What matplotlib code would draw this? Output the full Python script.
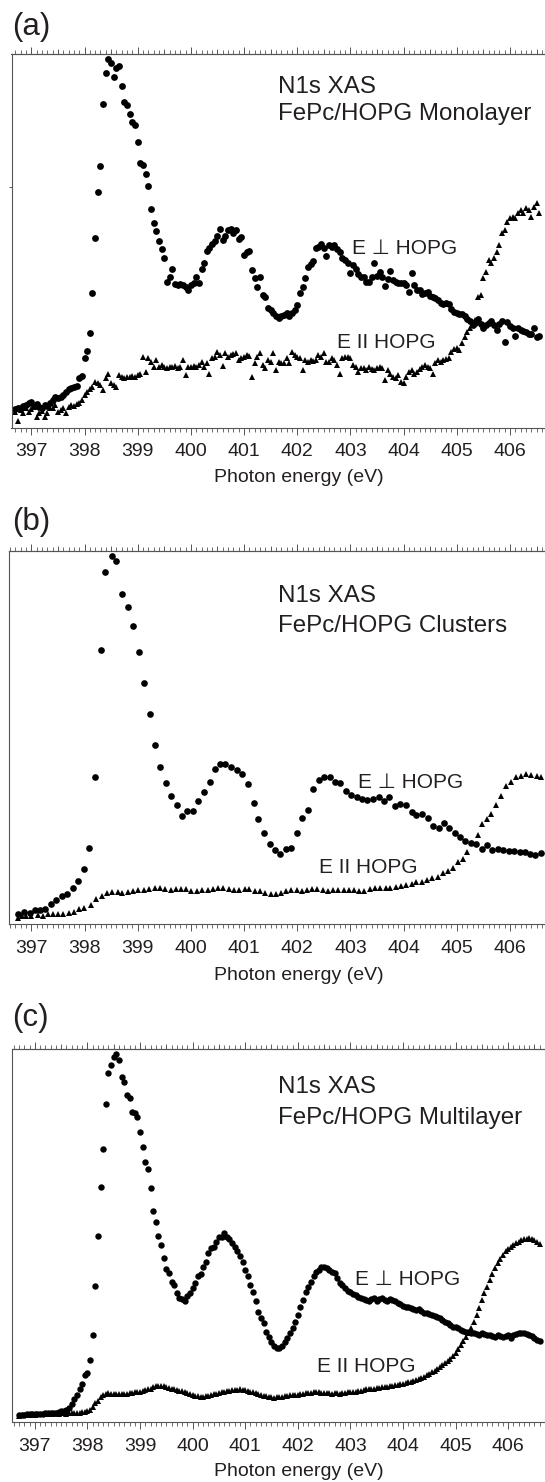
import matplotlib
matplotlib.use('Agg')
import matplotlib.pyplot as plt
from matplotlib.ticker import MultipleLocator

plt.rcParams['font.family'] = ['Liberation Sans', 'DejaVu Sans']

# ---------------- data ----------------
energy_fine = [
    396.70, 396.75, 396.80, 396.85, 396.90, 396.95,
    397.00, 397.05, 397.10, 397.15, 397.20, 397.25, 397.30, 397.35, 397.40, 397.45,
    397.50, 397.55, 397.60, 397.65, 397.70, 397.75, 397.80, 397.85, 397.90, 397.95,
    398.00, 398.05, 398.10, 398.15, 398.20, 398.25, 398.30, 398.35, 398.40, 398.45,
    398.50, 398.55, 398.60, 398.65, 398.70, 398.75, 398.80, 398.85, 398.90, 398.95,
    399.00, 399.05, 399.10, 399.15, 399.20, 399.25, 399.30, 399.35, 399.40, 399.45,
    399.50, 399.55, 399.60, 399.65, 399.70, 399.75, 399.80, 399.85, 399.90, 399.95,
    400.00, 400.05, 400.10, 400.15, 400.20, 400.25, 400.30, 400.35, 400.40, 400.45,
    400.50, 400.55, 400.60, 400.65, 400.70, 400.75, 400.80, 400.85, 400.90, 400.95,
    401.00, 401.05, 401.10, 401.15, 401.20, 401.25, 401.30, 401.35, 401.40, 401.45,
    401.50, 401.55, 401.60, 401.65, 401.70, 401.75, 401.80, 401.85, 401.90, 401.95,
    402.00, 402.05, 402.10, 402.15, 402.20, 402.25, 402.30, 402.35, 402.40, 402.45,
    402.50, 402.55, 402.60, 402.65, 402.70, 402.75, 402.80, 402.85, 402.90, 402.95,
    403.00, 403.05, 403.10, 403.15, 403.20, 403.25, 403.30, 403.35, 403.40, 403.45,
    403.50, 403.55, 403.60, 403.65, 403.70, 403.75, 403.80, 403.85, 403.90, 403.95,
    404.00, 404.05, 404.10, 404.15, 404.20, 404.25, 404.30, 404.35, 404.40, 404.45,
    404.50, 404.55, 404.60, 404.65, 404.70, 404.75, 404.80, 404.85, 404.90, 404.95,
    405.00, 405.05, 405.10, 405.15, 405.20, 405.25, 405.30, 405.35, 405.40, 405.45,
    405.50, 405.55, 405.60, 405.65, 405.70, 405.75, 405.80, 405.85, 405.90, 405.95,
    406.00, 406.05, 406.10, 406.15, 406.20, 406.25, 406.30, 406.35, 406.40, 406.45,
    406.50, 406.55, 406.60,
]

# (a) Monolayer
perp_a = [
    4.9, 5.2, 5.4, 5.8, 6.1, 6.7, 7.0, 5.8, 6.3, 5.6,
    5.4, 6.1, 5.8, 6.5, 7.4, 8.3, 7.9, 8.1, 8.7, 9.6,
    10.3, 10.5, 11.0, 11.2, 13.2, 13.8, 18.6, 20.6, 25.4, 36.0,
    50.7, 63.2, 70.1, 86.6, 95.0, 98.6, 97.5, 93.8, 96.2, 96.8,
    91.4, 87.2, 86.4, 83.9, 81.9, 81.0, 76.4, 70.7, 70.3, 67.9,
    64.8, 58.4, 54.9, 52.6, 50.0, 47.7, 45.5, 39.1, 40.4, 42.4,
    38.4, 38.2, 38.4, 38.2, 37.7, 36.8, 38.2, 38.6, 40.2, 38.6,
    42.6, 44.0, 47.4, 48.0, 49.2, 50.0, 51.3, 53.3, 50.2, 51.3,
    52.9, 53.1, 52.0, 52.9, 50.4, 50.9, 46.2, 47.1, 47.4, 42.2,
    40.0, 37.7, 40.4, 35.5, 35.1, 31.9, 31.5, 30.6, 30.0, 29.3,
    30.0, 30.2, 30.6, 29.9, 30.6, 31.5, 32.8, 36.0, 37.6, 40.0,
    43.1, 43.7, 44.7, 48.0, 48.4, 49.1, 48.0, 45.9, 48.9, 48.4,
    48.9, 47.7, 47.1, 45.3, 45.0, 44.0, 41.5, 43.5, 42.6, 41.1,
    40.2, 40.4, 39.1, 39.1, 40.4, 44.0, 40.6, 41.7, 40.4, 37.9,
    39.7, 42.0, 39.5, 39.1, 38.8, 38.6, 38.8, 38.2, 36.4, 41.3,
    38.2, 36.8, 36.8, 35.8, 36.1, 36.4, 35.2, 35.1, 34.6, 34.2,
    33.3, 33.1, 33.5, 33.1, 31.7, 31.0, 30.8, 30.4, 30.3, 29.9,
    29.0, 28.6, 27.5, 27.9, 29.0, 27.7, 26.6, 27.5, 28.1, 28.6,
    27.5, 26.1, 27.7, 28.6, 23.0, 28.4, 27.2, 26.6, 24.5, 26.6,
    26.1, 26.0, 25.7, 25.2, 25.0, 26.6, 24.2, 24.5,
]
par_a = [
    4.3, 1.9, 4.7, 3.8, 5.2, 4.3, 4.9, 5.6, 2.9, 3.8,
    4.5, 2.9, 4.0, 5.2, 5.2, 6.1, 4.3, 4.7, 5.2, 3.8,
    5.6, 6.1, 5.8, 6.3, 6.5, 7.4, 8.7, 9.6, 10.3, 11.0,
    12.3, 11.9, 11.4, 10.1, 13.2, 14.5, 11.9, 11.4, 11.0, 14.1,
    13.6, 13.2, 13.6, 13.5, 13.8, 13.6, 14.1, 14.5, 19.0, 15.0,
    18.6, 17.7, 16.3, 18.1, 16.3, 16.8, 16.3, 15.9, 16.3, 16.3,
    16.5, 15.9, 16.3, 18.1, 14.1, 16.3, 16.3, 16.5, 16.3, 16.8,
    17.7, 16.3, 17.2, 14.5, 18.6, 19.0, 20.3, 19.4, 16.5, 19.9,
    19.0, 19.4, 19.7, 19.9, 18.1, 18.6, 19.0, 19.4, 19.2, 13.6,
    17.2, 19.0, 19.9, 16.8, 15.9, 18.1, 17.7, 19.9, 15.4, 17.7,
    17.2, 17.4, 18.6, 17.2, 20.3, 19.4, 19.0, 18.6, 15.4, 18.1,
    17.7, 18.1, 17.9, 18.1, 19.4, 18.8, 19.9, 17.7, 17.7, 18.6,
    18.1, 16.8, 14.5, 18.6, 19.0, 18.8, 18.6, 16.8, 16.3, 15.0,
    15.9, 15.9, 15.4, 16.3, 15.6, 15.4, 15.9, 16.3, 15.9, 12.8,
    15.4, 14.5, 13.6, 13.2, 14.1, 12.3, 11.9, 13.6, 15.0, 15.4,
    14.5, 15.0, 15.6, 16.3, 16.8, 16.3, 15.9, 14.5, 17.2, 18.1,
    17.7, 18.1, 18.3, 18.6, 20.3, 21.0, 21.2, 20.8, 22.6, 24.4,
    25.7, 26.6, 27.9, 28.8, 35.1, 35.5, 40.0, 41.7, 44.9, 44.0,
    45.3, 47.1, 48.9, 52.0, 52.9, 55.1, 56.0, 56.5, 56.0, 57.4,
    58.3, 57.4, 58.7, 58.3, 56.3, 59.1, 60.2, 57.4,
]

# (b) Clusters
energy_perp_b = [
    396.75, 396.86, 396.97, 397.07, 397.16, 397.26, 397.37, 397.47, 397.58, 397.67,
    397.79, 397.88, 397.98, 398.09, 398.19, 398.30, 398.39, 398.51, 398.60, 398.70,
    398.81, 398.91, 399.02, 399.11, 399.23, 399.32, 399.42, 399.53, 399.63, 399.74,
    399.83, 399.93, 400.04, 400.14, 400.25, 400.35, 400.45, 400.55, 400.65, 400.76,
    400.86, 400.97, 401.07, 401.18, 401.27, 401.37, 401.48, 401.58, 401.68, 401.79,
    401.89, 401.99, 402.09, 402.20, 402.30, 402.40, 402.50, 402.61, 402.71, 402.81,
    402.91, 403.02, 403.12, 403.22, 403.32, 403.43, 403.53, 403.63, 403.73, 403.84,
    403.94, 404.04, 404.15, 404.24, 404.35, 404.45, 404.55, 404.66, 404.76, 404.85,
    404.96, 405.06, 405.16, 405.26, 405.36, 405.47, 405.57, 405.67, 405.77, 405.87,
    405.98, 406.08, 406.18, 406.28, 406.38, 406.48, 406.59,
]
perp_b = [
    2.8, 3.4, 3.1, 3.7, 3.8, 4.0, 5.4, 6.5, 7.6, 8.0,
    9.6, 11.6, 14.7, 20.4, 39.4, 73.5, 94.5, 98.7, 97.3, 88.5,
    85.1, 80.0, 73.0, 64.6, 56.3, 47.9, 42.1, 37.8, 34.5, 32.0,
    29.1, 30.4, 30.4, 33.0, 35.5, 38.2, 41.6, 42.9, 42.9, 42.2,
    41.3, 40.3, 37.5, 32.4, 28.1, 24.4, 21.5, 19.9, 18.8, 20.2,
    20.5, 24.4, 28.4, 30.6, 36.3, 38.7, 39.4, 39.4, 38.0, 37.8,
    35.7, 34.6, 34.2, 33.5, 33.3, 33.5, 34.0, 32.9, 34.0, 31.8,
    32.1, 32.0, 30.0, 29.3, 29.6, 28.4, 26.3, 25.7, 27.1, 25.9,
    24.4, 23.3, 22.3, 21.7, 21.4, 20.1, 21.3, 19.9, 20.1, 19.9,
    19.6, 19.6, 19.5, 19.5, 18.8, 18.6, 19.0,
]
energy_par_b = [
    396.75, 396.82, 396.90, 397.00, 397.12, 397.21, 397.31, 397.41, 397.50, 397.60,
    397.70, 397.80, 397.90, 397.99, 398.13, 398.22, 398.32, 398.42, 398.52, 398.62,
    398.71, 398.81, 398.91, 399.01, 399.11, 399.21, 399.32, 399.42, 399.52, 399.62,
    399.72, 399.81, 399.91, 400.01, 400.11, 400.21, 400.32, 400.42, 400.51, 400.61,
    400.71, 400.81, 400.91, 401.01, 401.10, 401.20, 401.30, 401.40, 401.50, 401.60,
    401.69, 401.79, 401.89, 401.99, 402.09, 402.18, 402.28, 402.38, 402.48, 402.58,
    402.67, 402.77, 402.87, 402.97, 403.07, 403.16, 403.26, 403.36, 403.46, 403.56,
    403.66, 403.75, 403.85, 403.95, 404.05, 404.15, 404.24, 404.34, 404.44, 404.54,
    404.64, 404.74, 404.83, 404.93, 405.03, 405.12, 405.19, 405.29, 405.39, 405.48,
    405.57, 405.64, 405.74, 405.84, 405.93, 406.02, 406.11, 406.21, 406.31, 406.40,
    406.50, 406.59,
]
par_b = [
    1.8, 2.1, 2.2, 2.3, 2.5, 2.2, 2.7, 2.8, 2.8, 2.8,
    3.1, 3.4, 4.0, 4.5, 5.2, 6.7, 7.6, 8.3, 8.6, 8.6,
    8.5, 8.6, 8.9, 9.2, 9.2, 9.4, 9.8, 9.6, 9.4, 9.2,
    9.4, 9.5, 9.4, 8.9, 8.8, 9.2, 9.2, 9.4, 9.6, 9.6,
    9.5, 9.2, 9.2, 9.4, 9.4, 8.9, 8.8, 8.3, 8.1, 8.0,
    8.5, 8.9, 9.2, 9.2, 8.9, 9.2, 9.4, 9.5, 9.2, 9.0,
    9.2, 9.2, 9.2, 9.2, 9.2, 9.0, 8.9, 9.5, 9.6, 9.6,
    9.6, 9.8, 10.1, 10.3, 10.5, 10.7, 11.2, 11.4, 11.9, 12.3,
    12.8, 13.7, 14.3, 15.0, 16.8, 17.4, 19.5, 21.7, 23.9, 26.8,
    28.1, 29.6, 32.0, 34.4, 37.1, 38.2, 39.4, 39.6, 40.3, 40.0,
    39.7, 39.4,
]

# (c) Multilayer
perp_c = [
    2.0, 2.0, 1.9, 2.1, 2.1, 2.1, 2.1, 2.2, 2.2, 2.3,
    2.4, 2.4, 2.4, 2.5, 2.6, 2.7, 2.9, 3.1, 3.3, 3.8,
    4.9, 6.2, 7.3, 8.8, 10.3, 12.7, 13.3, 16.7, 23.4, 36.6,
    50.0, 63.0, 73.3, 85.3, 93.7, 95.8, 97.9, 98.8, 97.1, 92.7,
    91.3, 87.8, 86.9, 83.3, 82.8, 81.8, 77.9, 73.9, 69.9, 67.8,
    62.7, 56.7, 53.8, 50.0, 47.5, 44.0, 41.0, 39.9, 37.7, 36.8,
    34.6, 33.2, 33.0, 32.4, 33.9, 34.6, 35.9, 37.3, 39.1, 39.8,
    41.6, 43.1, 45.3, 46.6, 47.1, 48.4, 49.6, 49.8, 50.7, 49.8,
    49.1, 48.0, 47.1, 45.8, 44.6, 43.1, 40.8, 39.1, 36.8, 35.0,
    32.4, 29.7, 27.9, 26.5, 24.3, 22.8, 21.4, 20.5, 20.0, 19.9,
    20.5, 21.4, 22.5, 23.9, 25.2, 27.0, 28.8, 31.0, 32.8, 34.8,
    36.4, 37.7, 39.2, 40.4, 40.8, 41.6, 41.7, 41.3, 40.8, 40.4,
    39.9, 38.6, 37.4, 36.8, 35.9, 35.2, 35.0, 34.4, 34.1, 33.7,
    33.2, 33.1, 32.8, 32.6, 33.0, 33.2, 32.6, 33.0, 33.2, 32.8,
    32.4, 33.0, 32.8, 32.4, 32.1, 31.7, 31.2, 31.0, 30.8, 30.6,
    30.3, 30.1, 30.3, 29.9, 29.4, 29.2, 29.0, 28.8, 28.5, 28.2,
    27.9, 27.4, 27.0, 26.5, 26.1, 25.6, 25.5, 25.2, 24.8, 24.6,
    24.3, 24.3, 24.0, 23.9, 23.7, 23.4, 23.9, 23.7, 23.4, 23.4,
    23.1, 23.0, 23.4, 23.1, 23.0, 23.1, 23.4, 22.5, 23.4, 23.7,
    23.9, 24.0, 23.9, 23.7, 23.4, 23.1, 22.5, 22.1, 21.9,
]
par_c = [
    1.8, 1.9, 2.0, 1.9, 2.0, 2.1, 2.0, 2.1, 2.1, 2.1,
    2.2, 2.2, 2.3, 2.3, 2.4, 2.3, 2.4, 2.4, 2.3, 2.4,
    2.4, 2.5, 2.4, 2.5, 2.7, 2.8, 3.0, 3.3, 4.0, 5.1,
    5.8, 6.7, 7.2, 7.7, 7.8, 7.6, 7.5, 7.6, 7.6, 7.5,
    7.6, 7.6, 7.8, 7.8, 8.0, 8.1, 8.2, 8.4, 8.6, 8.8,
    9.0, 9.4, 9.6, 9.7, 9.7, 9.6, 9.5, 9.3, 9.0, 8.8,
    8.7, 8.5, 8.3, 8.0, 7.9, 7.6, 7.2, 7.1, 7.0, 6.9,
    6.9, 7.0, 7.1, 7.2, 7.5, 7.7, 7.8, 8.0, 8.1, 8.4,
    8.5, 8.6, 8.7, 8.7, 8.8, 8.7, 8.6, 8.4, 8.2, 8.0,
    7.8, 7.6, 7.3, 7.1, 7.0, 6.8, 6.7, 6.6, 6.7, 6.7,
    6.9, 7.0, 7.1, 7.2, 7.3, 7.4, 7.4, 7.5, 7.7, 7.8,
    7.8, 7.9, 8.0, 8.0, 8.0, 7.9, 7.8, 7.8, 7.8, 7.7,
    7.8, 7.8, 7.7, 7.8, 7.9, 8.0, 8.0, 8.1, 8.2, 8.3,
    8.5, 8.6, 8.8, 8.8, 8.9, 9.0, 9.1, 9.2, 9.4, 9.4,
    9.5, 9.6, 9.7, 9.9, 10.0, 10.2, 10.3, 10.5, 10.7, 10.9,
    11.2, 11.4, 11.7, 12.0, 12.2, 12.6, 13.0, 13.4, 13.8, 14.2,
    14.7, 15.3, 15.8, 16.4, 17.1, 17.8, 18.7, 19.7, 20.7, 21.9,
    23.0, 24.0, 25.4, 27.0, 28.8, 30.7, 32.8, 34.6, 36.4, 38.2,
    39.8, 41.3, 42.6, 43.7, 44.9, 45.8, 46.4, 47.1, 47.5, 48.0,
    48.4, 48.9, 49.1, 49.2, 49.3, 49.2, 48.9, 48.3, 47.8,
]

tick_values = [397, 398, 399, 400, 401, 402, 403, 404, 405, 406]
tick_labels = ['397', '398', '399', '400', '401', '402', '403', '404', '405', '406']
panel_labels = ['(a)', '(b)', '(c)']
sample_names = ['FePc/HOPG Monolayer', 'FePc/HOPG Clusters', 'FePc/HOPG Multilayer']
title_line = 'N1s XAS'
perp_label = 'E \u22a5 HOPG'
par_label = 'E II HOPG'
x_title = 'Photon energy (eV)'

# ---------------- layout (pixels) ----------------
W, H = 545, 1482
fig = plt.figure(figsize=(W / 100, H / 100), dpi=100)

TXT = '#231f20'
AX = '#555555'

panels = [
    dict(e_perp=energy_fine[:198], perp=perp_a, e_par=energy_fine[:198], par=par_a,
         box=(11.5, 54.0, 586.5, 427.7), xlim=(396.627, 407.44),
         ms_c=4.9, ms_t=4.8, ytick=[64.4],
         lab=(12, 35), l1=(278, 93.3), l2=(278, 120.0), perp_pos=(352, 254), par_pos=(337, 348.3),
         xl=(299, 482.0)),
    dict(e_perp=energy_perp_b, perp=perp_b, e_par=energy_par_b, par=par_b,
         box=(8.7, 551.0, 586.5, 924.3), xlim=(396.573, 407.44),
         ms_c=4.8, ms_t=3.8, ytick=[],
         lab=(12, 530), l1=(278, 601.7), l2=(278, 631.7), perp_pos=(358, 787.7), par_pos=(319, 873),
         xl=(299, 979.5)),
    dict(e_perp=energy_fine, perp=perp_c, e_par=energy_fine, par=par_c,
         box=(11.5, 1049.3, 586.5, 1422.3), xlim=(396.556, 407.49),
         ms_c=4.6, ms_t=4.0, ytick=[],
         lab=(12, 1026), l1=(278, 1093), l2=(278, 1124), perp_pos=(355, 1285), par_pos=(317, 1371.7),
         xl=(299, 1476)),
]


def fx(x):
    return x / W


def fy(y):
    return 1 - y / H


for k, p in enumerate(panels):
    L, T, R, B = p['box']
    ax = fig.add_axes([L / W, 1 - B / H, (R - L) / W, (B - T) / H])
    ax.plot(p['e_par'], p['par'], linestyle='none', marker='^', ms=p['ms_t'],
            mew=0, color='black')
    ax.plot(p['e_perp'], p['perp'], linestyle='none', marker='o', ms=p['ms_c'],
            mew=0, color='black')
    ax.set_xlim(*p['xlim'])
    ax.set_ylim(0, 100)
    for s in ('left', 'top', 'bottom'):
        ax.spines[s].set_color(AX)
        ax.spines[s].set_linewidth(0.8)
    ax.spines['right'].set_visible(False)

    ax.set_xticks(tick_values)
    ax.set_xticklabels(tick_labels)
    ax.xaxis.set_minor_locator(MultipleLocator(0.1))
    ax.tick_params(axis='x', which='major', direction='out', top=True, bottom=True,
                   length=5.0, width=0.7, color=AX, labelsize=14, labelcolor=TXT, pad=6.3)
    ax.tick_params(axis='x', which='minor', direction='out', top=True, bottom=True,
                   length=2.9, width=0.6, color=AX)
    ax.set_yticks(p['ytick'])
    ax.tick_params(axis='y', which='both', direction='out', length=2.5, width=0.7,
                   color=AX, labelleft=False)

    sec = ax.secondary_xaxis('top')
    sec.xaxis.set_major_locator(MultipleLocator(0.5))
    sec.tick_params(axis='x', direction='out', length=3.8, width=0.6, color=AX,
                    labeltop=False)
    sec.spines['top'].set_color(AX)
    sec.spines['top'].set_linewidth(0.8)

    fig.text(fx(p['lab'][0]), fy(p['lab'][1]), panel_labels[k], fontsize=22.5,
             color=TXT, va='baseline', ha='left')
    fig.text(fx(p['l1'][0]), fy(p['l1'][1]), title_line, fontsize=17.4,
             color=TXT, va='baseline', ha='left')
    fig.text(fx(p['l2'][0]), fy(p['l2'][1]), sample_names[k], fontsize=17.4,
             color=TXT, va='baseline', ha='left')
    fig.text(fx(p['perp_pos'][0]), fy(p['perp_pos'][1]), perp_label, fontsize=15,
             color=TXT, va='baseline', ha='left')
    fig.text(fx(p['par_pos'][0]), fy(p['par_pos'][1]), par_label, fontsize=15,
             color=TXT, va='baseline', ha='left')
    fig.text(fx(p['xl'][0]), fy(p['xl'][1]), x_title, fontsize=14,
             color=TXT, va='baseline', ha='center')

fig.savefig('out.png', dpi=100)
